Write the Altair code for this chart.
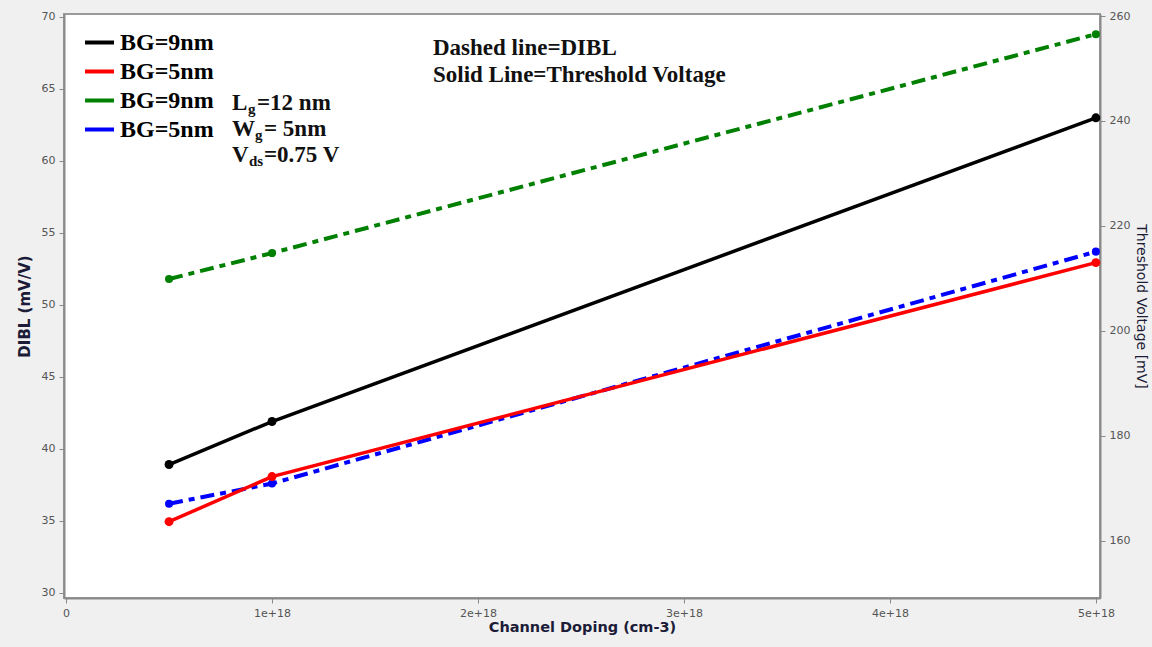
import altair as alt
import pandas as pd

# ---------------- data ----------------
doping = [5e17, 1e18, 5e18]
vth_bg9 = [174.5, 182.7, 240.6]     # Threshold voltage [mV], BG=9nm (solid, black)
vth_bg5 = [163.6, 172.2, 213.0]     # Threshold voltage [mV], BG=5nm (solid, red)
dibl_bg9 = [51.8, 53.6, 68.8]       # DIBL (mV/V), BG=9nm (dashed, green)
dibl_bg5 = [36.2, 37.6, 53.7]       # DIBL (mV/V), BG=5nm (dashed, blue)

series_keys = ["vth9", "vth5", "dibl9", "dibl5"]
series_labels = ["BG=9nm", "BG=5nm", "BG=9nm", "BG=5nm"]
series_colors = ["#000000", "#ff0000", "#008000", "#0000ff"]

x_ticks = [0, 1e18, 2e18, 3e18, 4e18, 5e18]
left_ticks = [30, 35, 40, 45, 50, 55, 60, 65, 70]
right_ticks = [160, 180, 200, 220, 240, 260]

rows = []
for k, vals in zip(series_keys, [vth_bg9, vth_bg5, dibl_bg9, dibl_bg5]):
    for d, v in zip(doping, vals):
        rows.append({"doping": d, "value": v, "series": k})
df = pd.DataFrame(rows)
vth_df = df[df.series.str.startswith("vth")]
dibl_df = df[df.series.str.startswith("dibl")]

# legend label mapping expression
label_expr = "''"
for k, l in reversed(list(zip(series_keys, series_labels))):
    label_expr = f"datum.label == '{k}' ? '{l}' : ({label_expr})"

color = alt.Color(
    "series:N",
    scale=alt.Scale(domain=series_keys, range=series_colors),
    legend=alt.Legend(
        title=None, orient="none", legendX=19, legendY=12,
        symbolType="stroke", symbolStrokeWidth=4, symbolSize=841,
        labelFont="Liberation Serif", labelFontSize=24, labelFontWeight="bold",
        labelColor="black", labelOffset=4, rowPadding=0, labelExpr=label_expr,
    ),
)

x_enc = alt.X(
    "doping:Q",
    scale=alt.Scale(domain=[-1e16, 5.02e18], nice=False, zero=False),
    axis=alt.Axis(
        values=x_ticks,
        labelExpr="datum.value == 0 ? '0' : format(datum.value, '.0e')",
        title="Channel Doping (cm-3)", grid=False,
        titleFont="DejaVu Sans", titleFontSize=14.5, titleFontWeight="bold",
        titleColor="#1c1c38", titlePadding=2,
    ),
)

y_left = alt.Y(
    "value:Q",
    scale=alt.Scale(domain=[29.65, 70.2], nice=False, zero=False),
    axis=alt.Axis(
        orient="left", values=left_ticks, title="DIBL (mV/V)", grid=False,
        titleFont="DejaVu Sans", titleFontSize=15, titleFontWeight="bold",
        titleColor="#1c1c38", titlePadding=9,
    ),
)
y_right = alt.Y(
    "value:Q",
    scale=alt.Scale(domain=[149.05, 260.4], nice=False, zero=False),
    axis=alt.Axis(
        orient="right", values=right_ticks, title="Threshold Voltage [mV]", grid=False,
        titleFont="DejaVu Sans", titleFontSize=14, titleFontWeight="normal",
        titleColor="#1c1c38", titlePadding=4,
    ),
)

dibl_line = alt.Chart(dibl_df).mark_line(strokeWidth=4, strokeDash=[14, 6, 6, 6]).encode(
    x=x_enc, y=y_left, color=color)
dibl_pts = alt.Chart(dibl_df).mark_point(filled=True, size=65, opacity=1).encode(
    x=x_enc, y=y_left, color=color)
vth_line = alt.Chart(vth_df).mark_line(strokeWidth=3.5).encode(
    x=x_enc, y=y_right, color=color)
vth_pts = alt.Chart(vth_df).mark_point(filled=True, size=80, opacity=1).encode(
    x=x_enc, y=y_right, color=color)

dibl = alt.layer(dibl_line, dibl_pts)
vth = alt.layer(vth_line, vth_pts)


def txt(text, x, y, size, weight="bold"):
    return alt.Chart(pd.DataFrame({"t": [text]})).mark_text(
        font="Liberation Serif", fontSize=size, fontWeight=weight, color="#111111",
        align="left", baseline="middle",
    ).encode(x=alt.value(x), y=alt.value(y), text="t:N")


notes = [
    txt("Dashed line=DIBL", 369, 34, 23),
    txt("Solid Line=Threshold Voltage", 369, 61, 23),
    txt("L", 168, 89, 23),
    txt("g", 184, 95, 15),
    txt("=12 nm", 193, 89, 23),
    txt("W", 168, 115, 23),
    txt("g", 191, 121, 15),
    txt("= 5nm", 200, 115, 23),
    txt("V", 168, 141, 23),
    txt("ds", 185, 147, 15),
    txt("=0.75 V", 200, 141, 23),
]

chart = alt.layer(dibl, vth, *notes).resolve_scale(y="independent").properties(
    width=1036, height=584,
    autosize=alt.AutoSizeParams(type="none"),
    padding={"left": 64, "top": 14, "right": 52, "bottom": 49},
    background="#f0f0f0",
).configure_view(
    fill="white", stroke="#9a9a9a", strokeWidth=2,
).configure_axis(
    labelFont="DejaVu Sans", labelFontSize=11, labelColor="#555555",
    domainColor="#8a8a8a", domainWidth=2, tickColor="#8a8a8a", tickSize=5,
    labelPadding=4,
)

chart.save("out.html", embed_options={"renderer": "svg", "actions": False})
